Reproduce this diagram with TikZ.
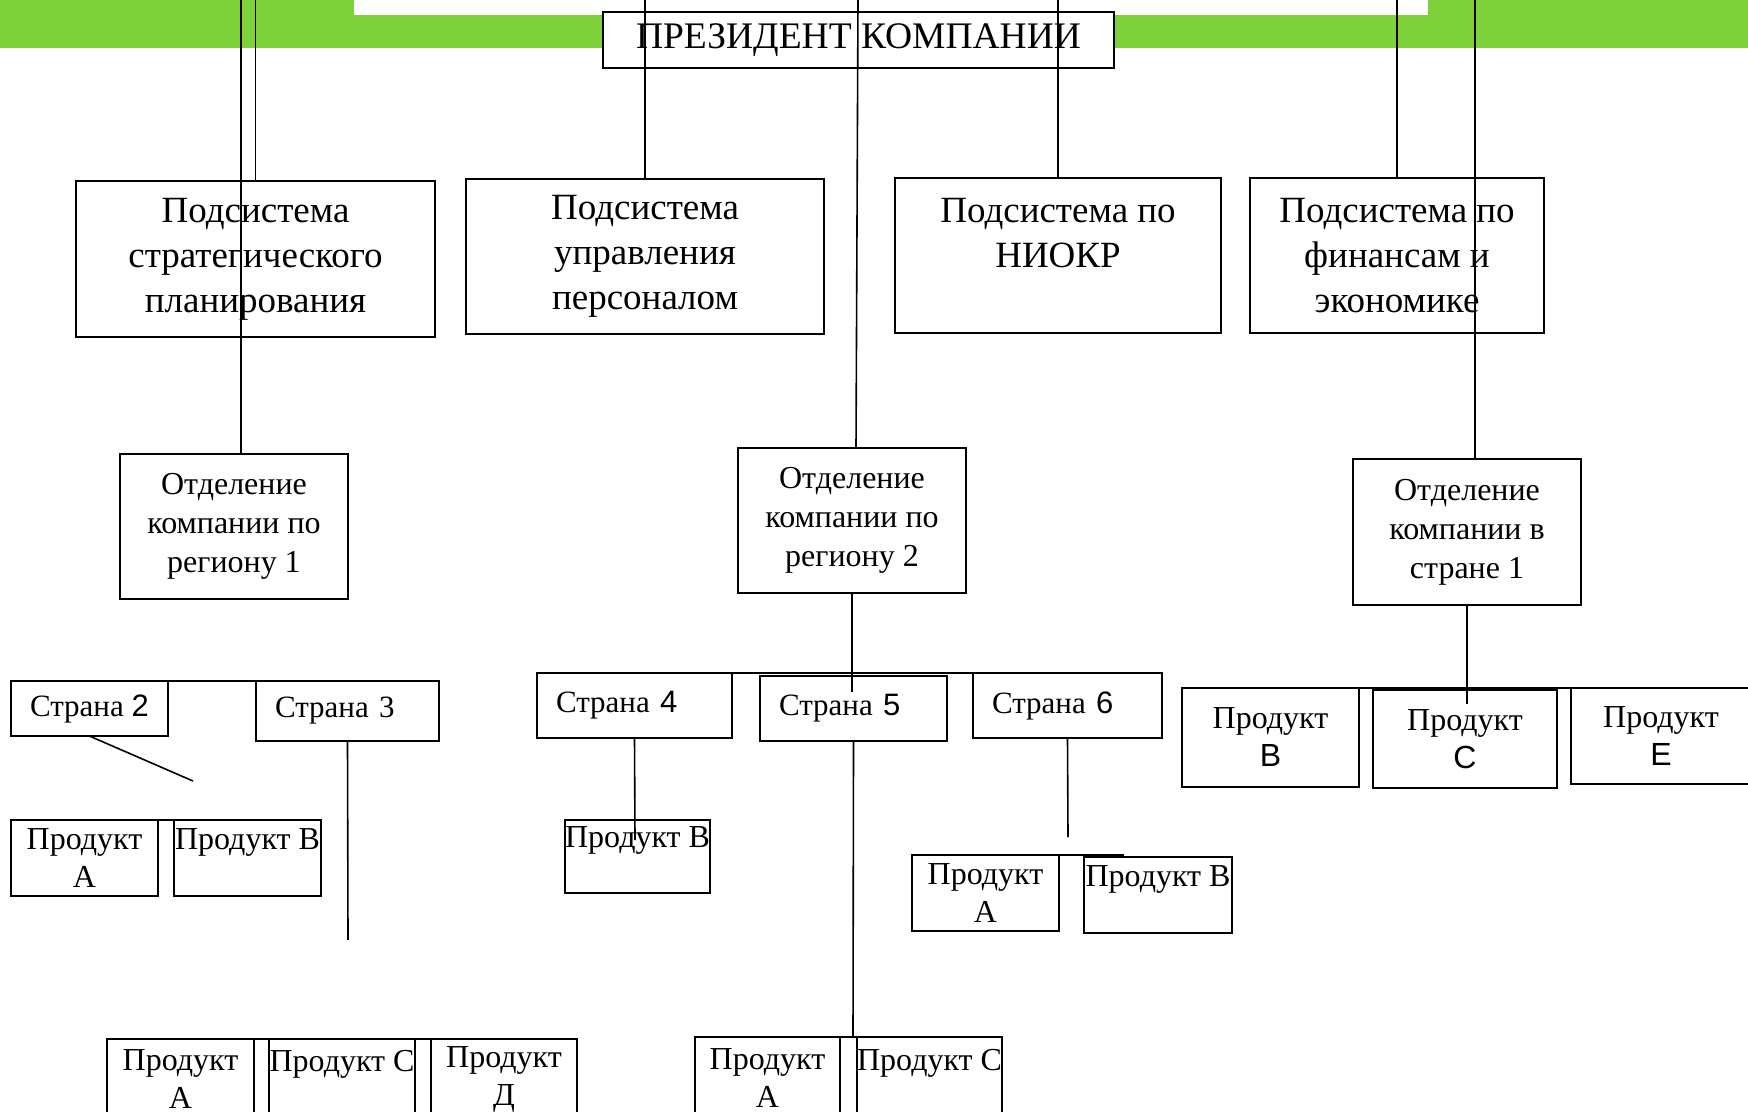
\documentclass[tikz,border=0pt]{standalone}
\usepackage{fontspec}
\setmainfont{Liberation Serif}
\newfontfamily\arialf{Liberation Sans}
\definecolor{bandgreen}{RGB}{127,209,59}
\tikzset{%
  % Specifications for style of boxes:
    base/.style = {rectangle, draw=black, line width=2.4pt, fill=white,
                   anchor=north west, inner sep=0pt, outer sep=0pt,
                   align=center},
    chief/.style = {base, font=\fontsize{37.5}{44}\selectfont},
    subsys/.style = {base, font=\fontsize{37}{45}\selectfont},
    branch/.style = {base, font=\fontsize{32}{39}\selectfont},
    cntry/.style = {base, align=left, inner xsep=19pt,
                    font=\fontsize{31}{38}\selectfont},
    prod/.style = {base, font=\fontsize{32}{38}\selectfont},
    link/.style = {line width=1.6pt}%
}

\begin{document}
\begin{tikzpicture}[x=1pt,y=-1pt]
\useasboundingbox (0,0) rectangle (1748,1111);

% green band at the top
\fill[bandgreen] (0,0) rectangle (1748,48);
\fill[white] (354,0) rectangle (1428,15);

\node[chief, minimum width=511pt, minimum height=56pt] (pres) at (603,12) {ПРЕЗИДЕНТ КОМПАНИИ};

% subsystems
\node[subsys, minimum width=359pt, minimum height=156pt] (strat) at (76,181) {Подсистема\\стратегического\\планирования};
\node[subsys, minimum width=358pt, minimum height=155pt] (pers) at (466,179) {Подсистема\\управления\\персоналом};
\node[subsys, minimum width=326pt, minimum height=155pt] (niokr) at (895,178) {Подсистема по\\НИОКР\\~};
\node[subsys, minimum width=294pt, minimum height=155pt] (fin) at (1250,178) {Подсистема по\\финансам и\\экономике};

% branches
\node[branch, minimum width=228pt, minimum height=145pt] (reg1) at (120,454) {Отделение\\компании по\\региону 1};
\node[branch, minimum width=228pt, minimum height=145pt] (reg2) at (738,448) {Отделение\\компании по\\региону 2};
\node[branch, minimum width=228pt, minimum height=146pt] (land1) at (1353,459) {Отделение\\компании в\\стране 1};

% countries
\node[cntry, align=center, minimum width=154pt, minimum height=55pt] (s2) at (11,681) {Страна {\arialf 2}};
\node[cntry, text width=145pt, minimum height=60pt] (s3) at (256,681) {Страна 3};
\node[cntry, text width=157pt, minimum height=65pt] (s4) at (537,673) {Страна {\arialf 4}};
\node[cntry, text width=149pt, minimum height=65pt] (s5) at (760,676) {Страна {\arialf 5}};
\node[cntry, text width=151pt, minimum height=65pt] (s6) at (973,673) {Страна {\arialf 6}};

% products
\node[prod, minimum width=147pt, minimum height=76pt] (pa2) at (11,820) {Продукт\\А};
\node[prod, minimum width=147pt, minimum height=76pt] (pb2) at (174,820) {Продукт В\\~};
\node[prod, minimum width=145pt, minimum height=73pt] (pb4) at (565,820) {Продукт В\\~};
\node[prod, minimum width=147pt, minimum height=76pt] (pa6) at (912,855) {Продукт\\А};
\node[prod, minimum width=148pt, minimum height=76pt] (pb6) at (1084,857) {Продукт В\\~};
\node[prod, minimum width=177pt, minimum height=99pt] (pbr) at (1182,688) {Продукт\\{\arialf В}};
\node[prod, minimum width=184pt, minimum height=98pt] (pcr) at (1373,690) {Продукт\\{\arialf С}};
\node[prod, minimum width=180pt, minimum height=96pt] (per) at (1571,688) {Продукт\\{\arialf Е}};
\node[prod, minimum width=147pt, minimum height=81pt] (pa3) at (107,1039) {Продукт\\А};
\node[prod, minimum width=146pt, minimum height=81pt] (pc3) at (269,1039) {Продукт С\\~};
\node[prod, minimum width=146pt, minimum height=81pt] (pd3) at (431,1039) {Продукт\\Д};
\node[prod, minimum width=145pt, minimum height=83pt] (pa5) at (695,1037) {Продукт\\А};
\node[prod, minimum width=145pt, minimum height=83pt] (pc5) at (857,1037) {Продукт С\\~};

% lines from the top edge
\coordinate (t1) at (241,0);
\coordinate (t4) at (858,0);
\coordinate (r2top) at (856,448);
\coordinate (t7) at (1475,0);
\draw[link] (t1) -- (t1 |- reg1.north);
\draw[link] (strat.north |- t1) -- (strat.north);
\draw[link] (pers.north |- t1) -- (pers.north);
\draw[link] (t4) -- (r2top);
\draw[link] (niokr.north |- t1) -- (niokr.north);
\draw[link] (fin.north |- t1) -- (fin.north);
\draw[link] (t7) -- (t7 |- land1.north);

% lines below the branches
\coordinate (r2end) at (852,692);
\coordinate (c1end) at (1467,704);
\draw[link] (reg2.south) -- (r2end);
\draw[link] (land1.south) -- (c1end);

% lines below the countries
\coordinate (s2end) at (193,781);
\coordinate (s3end) at (348,940);
\coordinate (s4end) at (635,840);
\coordinate (s5end) at (853,1038);
\coordinate (s6end) at (1068,837);
\draw[link] (s2.south) -- (s2end);
\draw[link] (s3.south) -- (s3end);
\draw[link] (s4.south) -- (s4end);
\draw[link] (s5.south) -- (s5end);
\draw[link] (s6.south) -- (s6end);

% top edges joined
\coordinate (s46end) at (1035,673);
\coordinate (p6end) at (1124,855);
\coordinate (redge) at (1748,688);
\draw[link] (s2.north east) -- (s3.north west);
\draw[link] (s4.north east) -- (s46end);
\draw[link] (pa2.north east) -- (pb2.north west);
\draw[link] (pa6.north east) -- (p6end);
\draw[link] (pbr.north west) -- (redge);
\draw[link] (pa3.north west) -- (pd3.north east);
\draw[link] (pa5.north west) -- (pc5.north east);

\end{tikzpicture}
\end{document}
